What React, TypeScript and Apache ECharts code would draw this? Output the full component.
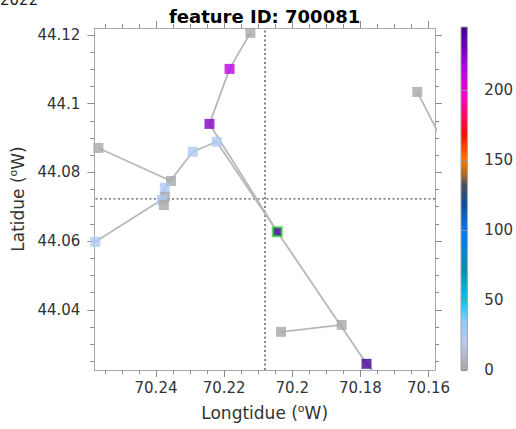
import { useEffect, useRef } from "react";
import * as echarts from "echarts";

// ---- data (longitude in degrees W, latitude in degrees N, colour value) ----
const POINT_LON = [70.2123, 70.2184, 70.2243, 70.2222, 70.2292, 70.2356, 70.2374, 70.2374, 70.2383, 70.2377, 70.2569, 70.2578, 70.2044, 70.2033, 70.1855, 70.1782, 70.1633];
const POINT_LAT = [44.1206, 44.1101, 44.0941, 44.0889, 44.086, 44.0775, 44.0755, 44.0729, 44.072, 44.0705, 44.0871, 44.0598, 44.0627, 44.0336, 44.0356, 44.0243, 44.1034];
const POINT_VAL = [0, 212, 226, 24, 24, 0, 24, 0, 24, 0, 0, 24, 244, 0, 0, 244, 0];
const HIGHLIGHT_INDEX = 12;

// track continuation points that lie outside the plotted window
const EXIT_LON = [70.1741, 70.1537];
const EXIT_LAT = [44.0196, 44.0848];

// tracks: point indices; -1 / -2 refer to EXIT points
const TRACKS = [
  [0, 1, 2, 12, 15, -1],
  [11, 8, 6, 4, 3, 12],
  [10, 5],
  [13, 14],
  [16, -2],
];

const X_TICKS = [70.16, 70.18, 70.2, 70.22, 70.24];
const Y_TICKS = [44.04, 44.06, 44.08, 44.1, 44.12];
const CB_TICKS = [0, 50, 100, 150, 200];
const X_MIN = 70.1581;
const X_MAX = 70.2581;
const Y_MIN = 44.0225;
const Y_MAX = 44.122;
const CB_MIN = 0;
const CB_MAX = 245;
const CROSS_LON = 70.208;
const CROSS_LAT = 44.0723;
const MINOR_STEP = 0.005;

const TITLE = "feature ID: 700081";
const CORNER_TEXT = "2022";

const CMAP_STOPS: [number, string][] = [
  [0, "#a8a8a8"],
  [20, "#bcc8f2"],
  [35, "#88ccff"],
  [50, "#00c4f0"],
  [72, "#0a8cb0"],
  [98, "#0a78f0"],
  [120, "#0c4c90"],
  [132, "#4a5060"],
  [140, "#b06a20"],
  [150, "#ff7a00"],
  [168, "#ff0a00"],
  [195, "#ff00c8"],
  [215, "#b000e8"],
  [245, "#3c0090"],
];

function hexToRgb(h: string) {
  const n = parseInt(h.slice(1), 16);
  return [(n >> 16) & 255, (n >> 8) & 255, n & 255];
}

function colorAt(v: number) {
  let k = 0;
  while (k < CMAP_STOPS.length - 2 && v > CMAP_STOPS[k + 1][0]) k++;
  const [v0, c0] = CMAP_STOPS[k];
  const [v1, c1] = CMAP_STOPS[k + 1];
  const t = Math.max(0, Math.min(1, (v - v0) / (v1 - v0)));
  const a = hexToRgb(c0);
  const b = hexToRgb(c1);
  const rgb = a.map((x, j) => Math.round(x + (b[j] - x) * t));
  return `rgb(${rgb[0]},${rgb[1]},${rgb[2]})`;
}

function buildPalette(count: number) {
  const out: string[] = [];
  for (let i = 0; i < count; i++) {
    out.push(colorAt(CB_MIN + (i / (count - 1)) * (CB_MAX - CB_MIN)));
  }
  return out;
}

function minorTicks(min: number, max: number, majors: number[]) {
  const res: number[] = [];
  const k0 = Math.ceil(min / MINOR_STEP - 1e-9);
  const k1 = Math.floor(max / MINOR_STEP + 1e-9);
  for (let k = k0; k <= k1; k++) {
    const v = Math.round(k * MINOR_STEP * 10000) / 10000;
    if (!majors.some((m) => Math.abs(m - v) < 1e-6)) res.push(v);
  }
  return res;
}

const FONT = "DejaVu Sans";
const AXIS_COLOR = "#a8a8a8";
const TICK_COLOR = "#8c8c8c";
const LABEL_COLOR = "#333333";

export default function App() {
  const ref = useRef<HTMLDivElement>(null);

  useEffect(() => {
    if (!ref.current) return;
    const chart = echarts.init(ref.current, undefined, { renderer: "svg" });

    const coord = (i: number) =>
      i >= 0 ? [POINT_LON[i], POINT_LAT[i]] : [EXIT_LON[-i - 1], EXIT_LAT[-i - 1]];

    const xMinor = minorTicks(X_MIN, X_MAX, X_TICKS);
    const yMinor = minorTicks(Y_MIN, Y_MAX, Y_TICKS);

    const crossStyle = { type: [2, 2.5], color: "#555555", width: 1.4 };
    const crossSeries: any[] = [
      [
        [CROSS_LON, Y_MIN],
        [CROSS_LON, Y_MAX],
      ],
      [
        [X_MIN, CROSS_LAT],
        [X_MAX, CROSS_LAT],
      ],
    ].map((d) => ({
      type: "line",
      xAxisIndex: 0,
      yAxisIndex: 0,
      data: d,
      showSymbol: false,
      symbol: "none",
      silent: true,
      z: 1,
      lineStyle: crossStyle,
    }));

    const lineSeries: any[] = TRACKS.map((tr) => ({
      type: "line",
      xAxisIndex: 0,
      yAxisIndex: 0,
      data: tr.map(coord),
      showSymbol: false,
      symbol: "none",
      silent: true,
      clip: true,
      z: 2,
      lineStyle: { color: "#b8b8b8", width: 1.8 },
    }));

    const scatterData = POINT_VAL.map((v, i) => {
      const item: any = { value: [POINT_LON[i], POINT_LAT[i], v] };
      if (i === HIGHLIGHT_INDEX) {
        item.itemStyle = { borderColor: "#33dd33", borderWidth: 2 };
        item.symbolSize = 9;
      }
      return item;
    });

    const scatterIndex = crossSeries.length + lineSeries.length;

    const cbGradient = new echarts.graphic.LinearGradient(
      0,
      1,
      0,
      0,
      CMAP_STOPS.map(([v, c]) => ({ offset: (v - CB_MIN) / (CB_MAX - CB_MIN), color: c }))
    );

    const xMajorBase = {
      type: "value",
      gridIndex: 0,
      min: X_MIN,
      max: X_MAX,
      inverse: true,
      splitLine: { show: false },
    };
    const yMajorBase = {
      type: "value",
      gridIndex: 0,
      min: Y_MIN,
      max: Y_MAX,
      splitLine: { show: false },
    };

    const nameRich = {
      a: { fontSize: 17, color: LABEL_COLOR, fontFamily: FONT },
      s: {
        fontSize: 11,
        color: LABEL_COLOR,
        fontFamily: FONT,
        verticalAlign: "top",
        padding: [0, 0, 9, 0],
      },
    };

    chart.setOption({
      animation: false,
      backgroundColor: "#ffffff",
      textStyle: { fontFamily: FONT },
      grid: [
        { left: 92, right: 81, top: 28, bottom: 59, containLabel: false },
        {
          left: 461,
          top: 27,
          width: 16,
          height: 343,
          show: true,
          borderColor: "#a0a0a0",
          borderWidth: 1,
          backgroundColor: cbGradient,
        },
      ],
      graphic: [
        {
          type: "text",
          left: 264 - 95,
          top: 7,
          style: {
            text: TITLE,
            fontFamily: FONT,
            fontSize: 18,
            fontWeight: "bold",
            fill: "#000000",
          },
        },
        {
          type: "text",
          x: 0,
          y: -8,
          style: {
            text: CORNER_TEXT,
            fontFamily: FONT,
            fontSize: 15,
            fill: "#222222",
          },
        },
      ],
      xAxis: [
        {
          ...xMajorBase,
          position: "bottom",
          axisLine: { show: true, lineStyle: { color: AXIS_COLOR, width: 1 } },
          axisTick: {
            show: true,
            customValues: X_TICKS,
            length: 7,
            lineStyle: { color: TICK_COLOR },
          },
          axisLabel: {
            customValues: X_TICKS,
            fontSize: 15,
            color: LABEL_COLOR,
            margin: 10,
            fontFamily: FONT,
          },
          name: "{a|Longtidue (}{s|o}{a|W)}",
          nameLocation: "middle",
          nameGap: 33,
          nameTextStyle: { rich: nameRich },
        },
        {
          ...xMajorBase,
          position: "bottom",
          axisLine: { show: false },
          axisTick: {
            show: true,
            customValues: xMinor,
            length: 4,
            lineStyle: { color: TICK_COLOR },
          },
          axisLabel: { show: false },
        },
        {
          ...xMajorBase,
          position: "top",
          axisLine: { show: true, lineStyle: { color: AXIS_COLOR, width: 1 } },
          axisTick: {
            show: true,
            customValues: X_TICKS,
            length: 7,
            lineStyle: { color: TICK_COLOR },
          },
          axisLabel: { show: false },
        },
        {
          ...xMajorBase,
          position: "top",
          axisLine: { show: false },
          axisTick: {
            show: true,
            customValues: xMinor,
            length: 4,
            lineStyle: { color: TICK_COLOR },
          },
          axisLabel: { show: false },
        },
        {
          type: "value",
          gridIndex: 1,
          min: 0,
          max: 1,
          show: false,
        },
      ],
      yAxis: [
        {
          ...yMajorBase,
          position: "left",
          axisLine: { show: true, lineStyle: { color: AXIS_COLOR, width: 1 } },
          axisTick: {
            show: true,
            customValues: Y_TICKS,
            length: 7,
            lineStyle: { color: TICK_COLOR },
          },
          axisLabel: {
            customValues: Y_TICKS,
            fontSize: 15,
            color: LABEL_COLOR,
            margin: 14,
            fontFamily: FONT,
          },
          name: "{a|Latidue (}{s|o}{a|W)}",
          nameLocation: "middle",
          nameGap: 63,
          nameTextStyle: { rich: nameRich },
        },
        {
          ...yMajorBase,
          position: "left",
          axisLine: { show: false },
          axisTick: {
            show: true,
            customValues: yMinor,
            length: 4,
            lineStyle: { color: TICK_COLOR },
          },
          axisLabel: { show: false },
        },
        {
          ...yMajorBase,
          position: "right",
          axisLine: { show: true, lineStyle: { color: AXIS_COLOR, width: 1 } },
          axisTick: {
            show: true,
            customValues: Y_TICKS,
            length: 7,
            lineStyle: { color: TICK_COLOR },
          },
          axisLabel: { show: false },
        },
        {
          ...yMajorBase,
          position: "right",
          axisLine: { show: false },
          axisTick: {
            show: true,
            customValues: yMinor,
            length: 4,
            lineStyle: { color: TICK_COLOR },
          },
          axisLabel: { show: false },
        },
        {
          type: "value",
          gridIndex: 1,
          position: "right",
          min: CB_MIN,
          max: CB_MAX,
          splitLine: { show: false },
          axisLine: { show: false },
          axisTick: {
            show: true,
            customValues: CB_TICKS,
            length: 6,
            lineStyle: { color: TICK_COLOR },
          },
          axisLabel: {
            customValues: CB_TICKS,
            fontSize: 15,
            color: LABEL_COLOR,
            margin: 17,
            fontFamily: FONT,
          },
        },
      ],
      visualMap: {
        type: "continuous",
        show: false,
        min: CB_MIN,
        max: CB_MAX,
        dimension: 2,
        seriesIndex: [scatterIndex],
        inRange: { color: buildPalette(80) },
      },
      series: [
        ...crossSeries,
        ...lineSeries,
        {
          type: "scatter",
          xAxisIndex: 0,
          yAxisIndex: 0,
          symbol: "rect",
          symbolSize: 10,
          data: scatterData,
          z: 5,
          silent: true,
        },
      ],
    });

    return () => chart.dispose();
  }, []);

  return (
    <div
      ref={ref}
      style={{ position: "fixed", left: 0, top: 0, width: 516, height: 429 }}
    />
  );
}
